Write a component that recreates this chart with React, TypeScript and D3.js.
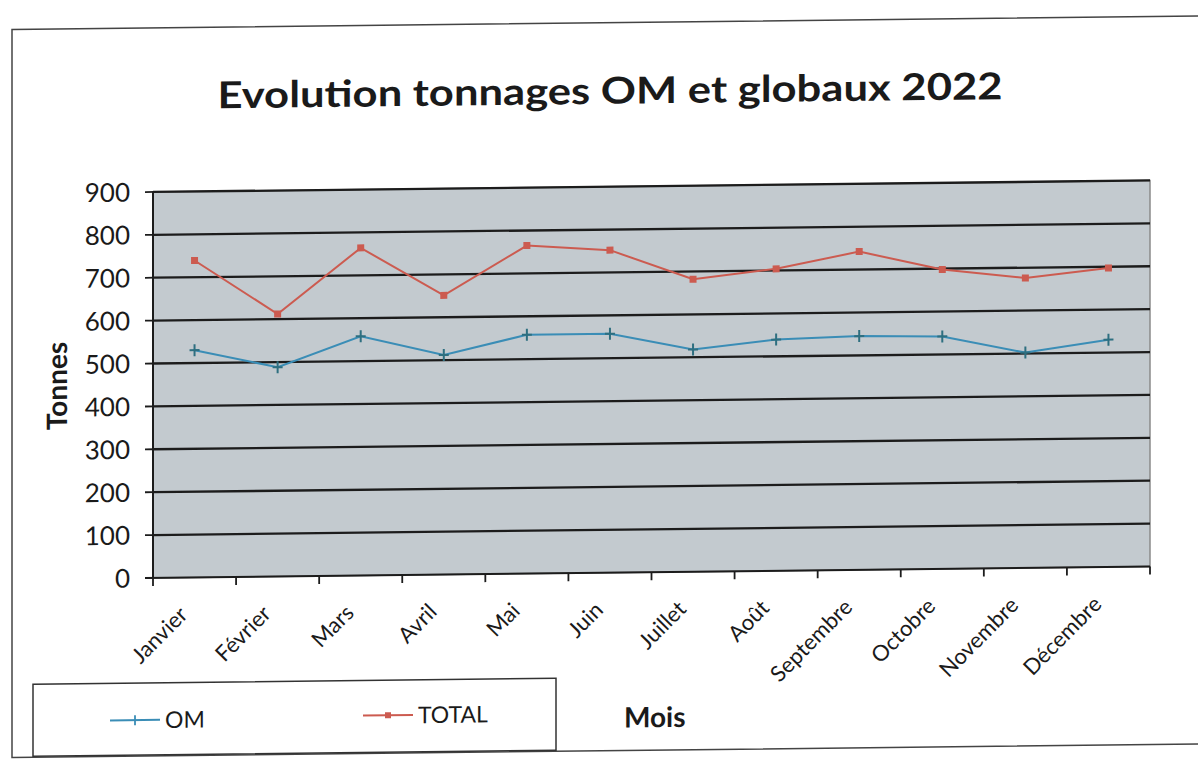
import React from "react";
import * as d3 from "d3";

const months = ["Janvier", "Février", "Mars", "Avril", "Mai", "Juin", "Juillet", "Août", "Septembre", "Octobre", "Novembre", "Décembre"];
const omValues = [530, 488, 558, 512, 557, 557, 518, 539, 545, 542, 502, 530];
const totalValues = [739, 612, 764, 651, 765, 752, 682, 704, 742, 698, 676, 697];
const yTicks = [0, 100, 200, 300, 400, 500, 600, 700, 800, 900];

const W = 1198;
const H = 760;
const plot = { left: 153, right: 1150, top: 192, bottom: 578 };
const FONT = "Lato, 'Open Sans', sans-serif";
const OM_COLOR = "#3a8db6";
const TOTAL_COLOR = "#cc5b50";

export default function App() {
  const x = d3.scaleBand().domain(months).range([plot.left, plot.right]);
  const y = d3.scaleLinear().domain([0, 900]).range([plot.bottom, plot.top]);
  const cx = (m: string) => (x(m) as number) + x.bandwidth() / 2;

  const line = d3.line<number>()
    .x((_, i) => cx(months[i]))
    .y((d) => y(d));

  // band edges for the x ticks
  const edges = months.map((m) => x(m) as number).concat([plot.right]);

  return (
    <svg width={W} height={H} style={{ position: "absolute", left: 0, top: 0, background: "#fff" }}>
      {/* the scan is a little skewed: horizontals rise to the right */}
      <g transform="translate(0,1.7) matrix(1,-0.0115,0,1,0,0)">
        <rect x={12} y={28} width={1300} height={728} fill="#fff" stroke="#444" strokeWidth={1.5} />

        <text x={610} y={109} textAnchor="middle" fontFamily={FONT} fontWeight="bold" fontSize={37}
          textLength={785} lengthAdjust="spacingAndGlyphs" fill="#1a1a1a">
          Evolution tonnages OM et globaux 2022
        </text>

        {/* plot area */}
        <rect x={plot.left} y={plot.top} width={plot.right - plot.left} height={plot.bottom - plot.top}
          fill="#c3cacf" stroke="#8a8a8a" strokeWidth={1.5} />

        {/* gridlines + y ticks */}
        {yTicks.map((t) => (
          <g key={t}>
            {t > 0 && (
              <line x1={plot.left} x2={plot.right} y1={y(t)} y2={y(t)} stroke="#1c1c1c" strokeWidth={2.3} />
            )}
            <line x1={plot.left - 8} x2={plot.left + 1} y1={y(t)} y2={y(t)} stroke="#1c1c1c" strokeWidth={1.8} />
            <text x={130} y={y(t)} dy="0.36em" textAnchor="end" fontFamily={FONT} fontSize={26} fill="#1a1a1a">
              {t}
            </text>
          </g>
        ))}

        {/* axes */}
        <line x1={plot.left} x2={plot.left} y1={plot.top} y2={plot.bottom + 1} stroke="#1c1c1c" strokeWidth={2} />
        <line x1={plot.left - 8} x2={plot.right} y1={plot.bottom} y2={plot.bottom} stroke="#1c1c1c" strokeWidth={2} />
        {edges.map((e, i) => (
          <line key={i} x1={e} x2={e} y1={plot.bottom} y2={plot.bottom + 8} stroke="#1c1c1c" strokeWidth={1.8} />
        ))}

        {/* x labels */}
        {months.map((m) => (
          <text key={m} transform={`translate(${cx(m) - 11},${plot.bottom + 33}) rotate(-45)`}
            textAnchor="end" dy="0.35em" fontFamily={FONT} fontSize={22} fill="#1a1a1a">
            {m}
          </text>
        ))}

        {/* series */}
        <path d={line(totalValues) as string} fill="none" stroke={TOTAL_COLOR} strokeWidth={2} />
        {totalValues.map((v, i) => (
          <rect key={i} x={cx(months[i]) - 3.5} y={y(v) - 3.5} width={7} height={7} fill={TOTAL_COLOR} />
        ))}
        <path d={line(omValues) as string} fill="none" stroke={OM_COLOR} strokeWidth={2} />
        {omValues.map((v, i) => (
          <g key={i}>
            <line x1={cx(months[i])} x2={cx(months[i])} y1={y(v) - 6} y2={y(v) + 6} stroke="#2e6f80" strokeWidth={2} />
            <line x1={cx(months[i]) - 5} x2={cx(months[i]) + 5} y1={y(v)} y2={y(v)} stroke="#2e6f80" strokeWidth={2} />
          </g>
        ))}

        {/* axis titles */}
        <text transform="translate(67,385) rotate(-90)" textAnchor="middle" fontFamily={FONT} fontWeight="bold"
          fontSize={28} fill="#1a1a1a">
          Tonnes
        </text>
        <text x={624} y={733} fontFamily={FONT} fontWeight="bold" fontSize={28} fill="#1a1a1a">
          Mois
        </text>

        {/* legend */}
        <rect x={33} y={683} width={523} height={72} fill="#fff" stroke="#333" strokeWidth={1.5} />
        <line x1={110} x2={160} y1={720} y2={720} stroke={OM_COLOR} strokeWidth={2} />
        <line x1={135} x2={135} y1={715} y2={725} stroke={OM_COLOR} strokeWidth={1.8} />
        <text x={165} y={720} dy="0.36em" fontFamily={FONT} fontSize={23} fill="#1a1a1a">OM</text>
        <line x1={363} x2={413} y1={718} y2={718} stroke={TOTAL_COLOR} strokeWidth={2} />
        <rect x={385} y={715} width={6} height={6} fill={TOTAL_COLOR} />
        <text x={418} y={718} dy="0.36em" fontFamily={FONT} fontSize={23} fill="#1a1a1a">TOTAL</text>
      </g>
    </svg>
  );
}
